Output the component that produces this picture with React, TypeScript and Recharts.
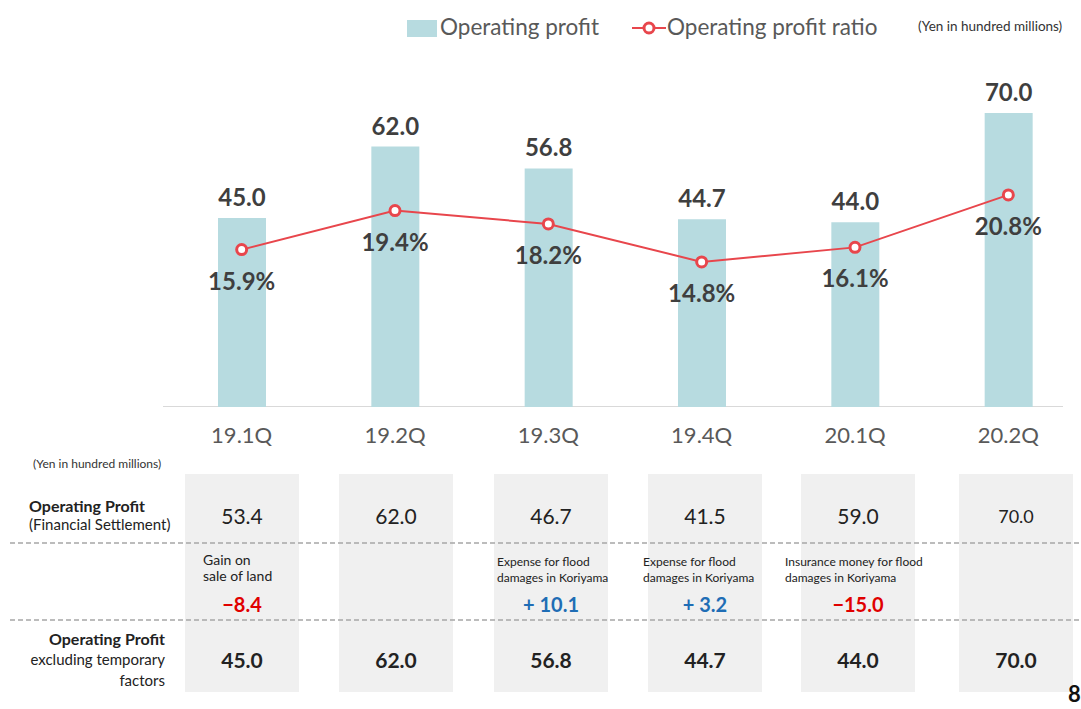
import * as React from "react"
import {
  ComposedChart, Bar, Line, XAxis, YAxis, LabelList,
} from "recharts"

// quarters and the two plotted series
const quarters = ["19.1Q", "19.2Q", "19.3Q", "19.4Q", "20.1Q", "20.2Q"]
const operatingProfit = [45.0, 62.0, 56.8, 44.7, 44.0, 70.0]
const profitRatio = [15.9, 19.4, 18.2, 14.8, 16.1, 20.8]

// table below the chart
const settlementProfit = [53.4, 62.0, 46.7, 41.5, 59.0, 70.0]
const temporaryNotes: (string[] | null)[] = [
  ["Gain on", "sale of land"],
  null,
  ["Expense for flood", "damages in Koriyama"],
  ["Expense for flood", "damages in Koriyama"],
  ["Insurance money for flood", "damages in Koriyama"],
  null,
]
const temporaryAdjust: (number | null)[] = [-8.4, null, 10.1, 3.2, -15.0, null]
const excludingTemporary = [45.0, 62.0, 56.8, 44.7, 44.0, 70.0]

const data = quarters.map((q, i) => ({
  q,
  profit: operatingProfit[i],
  ratio: profitRatio[i],
}))

const FONT = "Lato, 'Open Sans', sans-serif"
const BAR = "#b7dbe0"
const RED = "#e8464c"
const TEXT = "#3f3f3f"

// column layout for the table (matches the chart bands)
const colCenters = [242, 396, 551, 705, 858, 1016]
const colWidth = 114
const noteOffsets = [39, 0, 54, 62, 73, 0]

const BarTopLabel = (props: any) => {
  const { x, y, width, value } = props
  return (
    <text x={x + width / 2} y={y - 12} textAnchor="middle" fontSize={24}
      fontWeight={700} fill={TEXT} fontFamily={FONT}>
      {Number(value).toFixed(1)}
    </text>
  )
}

const RatioLabel = (props: any) => {
  const { x, y, value } = props
  return (
    <text x={x} y={y + 40} textAnchor="middle" fontSize={24}
      fontWeight={700} fill={TEXT} fontFamily={FONT}>
      {Number(value).toFixed(1)}%
    </text>
  )
}

const fmtAdjust = (v: number) =>
  v > 0 ? `+ ${v.toFixed(1)}` : `\u2212${Math.abs(v).toFixed(1)}`

const abs = (s: React.CSSProperties): React.CSSProperties => ({ position: "absolute", ...s })

export default function App() {
  return (
    <div style={{ position: "absolute", left: 0, top: 0, width: 1081, height: 709,
      overflow: "hidden", background: "#fff", fontFamily: FONT }}>

      {/* legend */}
      <div style={abs({ left: 407, top: 20, width: 30, height: 17, background: BAR })} />
      <div style={abs({ left: 440, top: 13, fontSize: 22.5, color: "#595959", lineHeight: "28px" })}>
        Operating profit
      </div>
      <svg style={abs({ left: 632, top: 18 })} width={34} height={20}>
        <line x1={0} y1={10} x2={34} y2={10} stroke={RED} strokeWidth={2} />
        <circle cx={17} cy={10} r={5} fill="#fff" stroke={RED} strokeWidth={3} />
      </svg>
      <div style={abs({ left: 667, top: 13, fontSize: 22.5, color: "#595959", lineHeight: "28px" })}>
        Operating profit ratio
      </div>
      <div style={abs({ left: 918, top: 18, fontSize: 13.5, color: "#333", lineHeight: "16px",
        whiteSpace: "nowrap" })}>
        (Yen in hundred millions)
      </div>

      {/* baseline */}
      <div style={abs({ left: 163, top: 406, width: 900, height: 1, background: "#d9d9d9" })} />

      {/* chart */}
      <div style={abs({ left: 0, top: 0, width: 1081, height: 460, overflow: "hidden" })}>
        <ComposedChart width={1100} height={460} data={data}
          margin={{ top: 71, right: 15, bottom: 23, left: 165 }}>
          <XAxis dataKey="q" height={30} tickLine={false} tickSize={0} tickMargin={20}
            axisLine={false}
            tick={{ fill: "#595959", fontSize: 22, fontFamily: FONT }} />
          <YAxis yAxisId="left" hide domain={[0, 80]} />
          <YAxis yAxisId="right" hide orientation="right" domain={[1.8, 31.9]} />
          <Bar yAxisId="left" dataKey="profit" fill={BAR} barSize={48} isAnimationActive={false}>
            <LabelList dataKey="profit" content={BarTopLabel} />
          </Bar>
          <Line yAxisId="right" dataKey="ratio" stroke={RED} strokeWidth={2}
            dot={{ r: 5, fill: "#fff", stroke: RED, strokeWidth: 3 }}
            isAnimationActive={false}>
            <LabelList dataKey="ratio" content={RatioLabel} />
          </Line>
        </ComposedChart>
      </div>

      {/* table */}
      <div style={abs({ left: 33, top: 456, fontSize: 12, color: "#333" })}>
        (Yen in hundred millions)
      </div>
      {colCenters.map((c, i) => (
        <div key={"bg" + i} style={abs({ left: c - colWidth / 2, top: 474, width: colWidth,
          height: 218, background: "#f0f0f0" })} />
      ))}
      <svg style={abs({ left: 0, top: 0 })} width={1081} height={709}>
        <line x1={10} y1={543} x2={1081} y2={543} stroke="#a6a6a6" strokeWidth={1.5} strokeDasharray="5 3" />
        <line x1={10} y1={620} x2={1081} y2={620} stroke="#a6a6a6" strokeWidth={1.5} strokeDasharray="5 3" />
      </svg>

      {/* row 1 */}
      <div style={abs({ left: 29, top: 496, lineHeight: "19px", color: "#222", whiteSpace: "nowrap" })}>
        <div style={{ fontSize: 16, fontWeight: 700 }}>Operating Profit</div>
        <div style={{ fontSize: 15 }}>(Financial Settlement)</div>
      </div>
      {settlementProfit.map((v, i) => (
        <div key={"r1" + i} style={abs({ left: colCenters[i] - 60, width: 120, top: 503,
          textAlign: "center", fontSize: i === 5 ? 18 : 21, color: "#222", lineHeight: "26px" })}>
          {v.toFixed(1)}
        </div>
      ))}

      {/* row 2 */}
      {temporaryNotes.map((n, i) => n && (
        <div key={"n" + i} style={abs({ left: colCenters[i] - noteOffsets[i],
          top: i === 0 ? 552 : 554, fontSize: i === 0 ? 14 : 12, lineHeight: "16px",
          color: "#222", whiteSpace: "nowrap" })}>
          <div>{n[0]}</div>
          <div>{n[1]}</div>
        </div>
      ))}
      {temporaryAdjust.map((v, i) => v !== null && (
        <div key={"a" + i} style={abs({ left: colCenters[i] - 60, width: 120, top: 591,
          textAlign: "center", fontSize: 20, fontWeight: 700, lineHeight: "26px",
          color: v < 0 ? "#e00000" : "#1f6db5" })}>
          {fmtAdjust(v)}
        </div>
      ))}

      {/* row 3 */}
      <div style={abs({ left: 0, width: 165, top: 628, textAlign: "right", lineHeight: "21px",
        color: "#222", whiteSpace: "nowrap" })}>
        <div style={{ fontSize: 16, fontWeight: 700 }}>Operating Profit</div>
        <div style={{ fontSize: 15 }}>excluding temporary</div>
        <div style={{ fontSize: 15 }}>factors</div>
      </div>
      {excludingTemporary.map((v, i) => (
        <div key={"r3" + i} style={abs({ left: colCenters[i] - 60, width: 120, top: 647,
          textAlign: "center", fontSize: 21, fontWeight: 700, color: "#222", lineHeight: "26px" })}>
          {v.toFixed(1)}
        </div>
      ))}

      <div style={abs({ left: 1068, top: 681, fontSize: 22, lineHeight: "26px", fontWeight: 700,
        color: "#111" })}>8</div>
    </div>
  )
}
